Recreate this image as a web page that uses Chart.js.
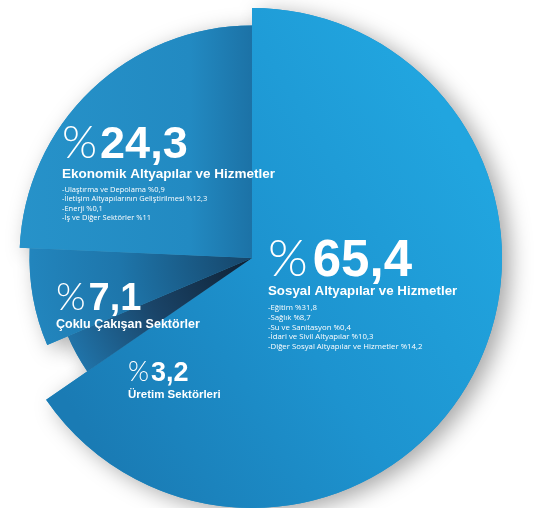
<!DOCTYPE html>
<html>
<head>
<meta charset="utf-8">
<script src="https://cdn.jsdelivr.net/npm/chart.js@4.4.1/dist/chart.umd.min.js"></script>
<style>
  html, body { margin: 0; padding: 0; background: #fff; }
  #wrap { width: 537px; height: 508px; position: relative; }
</style>
</head>
<body>
<div id="wrap"><canvas id="pieChart"></canvas></div>
<script>
// Veriler
const sectors = ['Sosyal Altyapılar ve Hizmetler', 'Üretim Sektörleri', 'Çoklu Çakışan Sektörler', 'Ekonomik Altyapılar ve Hizmetler'];
const shares = [65.4, 3.2, 7.1, 24.3];
const socialItems = ['-Eğitim %31,8', '-Sağlık %8,7', '-Su ve Sanitasyon %0,4', '-İdari ve Sivil Altyapılar %10,3', '-Diğer Sosyal Altyapılar ve Hizmetler %14,2'];
const economicItems = ['-Ulaştırma ve Depolama %0,9', '-İletişim Altyapılarının Geliştirilmesi %12,3', '-Enerji %0,1', '-İş ve Diğer Sektörler %11'];

// Dilim yarıçapları (büyük dilime göre)
const sliceScale = [1, 0.8, 0.89, 0.93];
const flatColors = ['#1e95d0', '#1b4d74', '#1f7fb6', '#238ac3'];

function geometry(chart) {
    const a = chart.chartArea;
    return {
        cx: (a.left + a.right) / 2,
        cy: (a.top + a.bottom) / 2,
        r: Math.min(a.right - a.left, a.bottom - a.top) / 2
    };
}

function sliceFill(context) {
    const chart = context.chart;
    const i = context.dataIndex;
    if (!chart.chartArea) return flatColors[i];
    const c = chart.ctx;
    const { cx, cy, r } = geometry(chart);
    let g;
    if (i === 0) {
        g = c.createLinearGradient(cx - r * 0.6, cy + r * 0.8, cx + r, cy - r * 0.2);
        g.addColorStop(0, '#1a7bb4');
        g.addColorStop(0.5, '#1d93cf');
        g.addColorStop(1, '#21a5df');
    } else if (i === 1) {
        g = c.createRadialGradient(cx, cy, 0, cx, cy, r * 0.8);
        g.addColorStop(0, '#0e2033');
        g.addColorStop(0.55, '#1a4468');
        g.addColorStop(1, '#2073a8');
    } else if (i === 2) {
        g = c.createRadialGradient(cx, cy, 0, cx, cy, r * 0.89);
        g.addColorStop(0, '#164468');
        g.addColorStop(0.6, '#1e76ab');
        g.addColorStop(1, '#2285bd');
    } else {
        g = c.createLinearGradient(cx - r, 0, cx, 0);
        g.addColorStop(0, '#2793ca');
        g.addColorStop(0.75, '#228ac2');
        g.addColorStop(1, '#1c72a6');
    }
    return g;
}

// Dilimlere farklı yarıçap ver
const radiusPlugin = {
    id: 'sliceRadius',
    afterDatasetsUpdate(chart) {
        const meta = chart.getDatasetMeta(0);
        const { r } = geometry(chart);
        meta.data.forEach((arc, i) => {
            arc.outerRadius = r * sliceScale[i];
        });
    },
    beforeDatasetsDraw(chart) {
        // gölge: önce dilim şekilleri gölgeyle çizilir, sonra dilimler üstüne
        const ctx = chart.ctx;
        const meta = chart.getDatasetMeta(0);
        ctx.save();
        ctx.shadowColor = 'rgba(0,0,0,0.35)';
        ctx.shadowBlur = 22;
        ctx.shadowOffsetX = 8;
        ctx.shadowOffsetY = 5;
        ctx.fillStyle = '#1f8fc8';
        meta.data.forEach(arc => {
            ctx.beginPath();
            ctx.moveTo(arc.x, arc.y);
            ctx.arc(arc.x, arc.y, arc.outerRadius, arc.startAngle, arc.endAngle);
            ctx.closePath();
            ctx.fill();
        });
        ctx.restore();
    }
};

function fmt(v) {
    return String(v).replace('.', ',');
}

// Yazılar (referans koordinatları: merkez 252,258, yarıçap 250)
const textPlugin = {
    id: 'sliceText',
    afterDatasetsDraw(chart) {
        const ctx = chart.ctx;
        const { cx, cy, r } = geometry(chart);
        const k = r / 250;
        const X = x => cx + (x - 252) * k;
        const Y = y => cy + (y - 258) * k;

        const blocks = [
            { i: 0, x: 268, y: 276, big: 51, gap: 5, head: 13.3, subs: socialItems, subSize: 7.8, subY: 310, subGap: 9.8 },
            { i: 1, x: 128, y: 381, big: 27, gap: 2, head: 11.5, subs: [], subSize: 0, subY: 0, subGap: 0 },
            { i: 2, x: 56, y: 310, big: 38, gap: 3, head: 12.5, subs: [], subSize: 0, subY: 0, subGap: 0 },
            { i: 3, x: 62, y: 158, big: 45, gap: 3, head: 13.5, subs: economicItems, subSize: 7.5, subY: 192, subGap: 9.3 }
        ];

        ctx.save();
        ctx.fillStyle = '#ffffff';
        ctx.textBaseline = 'alphabetic';
        ctx.textAlign = 'left';
        blocks.forEach(b => {
            const x = X(b.x);
            ctx.font = `300 ${b.big * k}px Lato, Roboto, "Liberation Sans", sans-serif`;
            ctx.fillText('%', x, Y(b.y));
            const pw = ctx.measureText('%').width;
            ctx.font = `bold ${b.big * k}px "Liberation Sans", Arial, sans-serif`;
            ctx.fillText(fmt(shares[b.i]), x + pw + b.gap * k, Y(b.y));
            ctx.font = `bold ${b.head * k}px "Liberation Sans", Arial, sans-serif`;
            ctx.fillText(sectors[b.i], x, Y(b.y) + b.head * 1.45 * k);
            ctx.font = `${b.subSize * k}px "Open Sans", "Liberation Sans", sans-serif`;
            b.subs.forEach((s, j) => {
                ctx.fillText(s, x, Y(b.subY + j * b.subGap));
            });
        });
        ctx.restore();
    }
};

function initChart() {
    const ctx = document.getElementById('pieChart').getContext('2d');
    new Chart(ctx, {
        type: 'pie',
        data: {
            labels: sectors,
            datasets: [{
                data: shares,
                backgroundColor: sliceFill,
                borderWidth: 0,
                hoverOffset: 0
            }]
        },
        options: {
            responsive: true,
            maintainAspectRatio: false,
            animation: false,
            events: [],
            rotation: 0,
            layout: {
                padding: { left: 2, right: 35, top: 8, bottom: 0 }
            },
            plugins: {
                legend: { display: false },
                tooltip: { enabled: false }
            }
        },
        plugins: [radiusPlugin, textPlugin]
    });
}

window.addEventListener('DOMContentLoaded', initChart);
</script>
</body>
</html>
